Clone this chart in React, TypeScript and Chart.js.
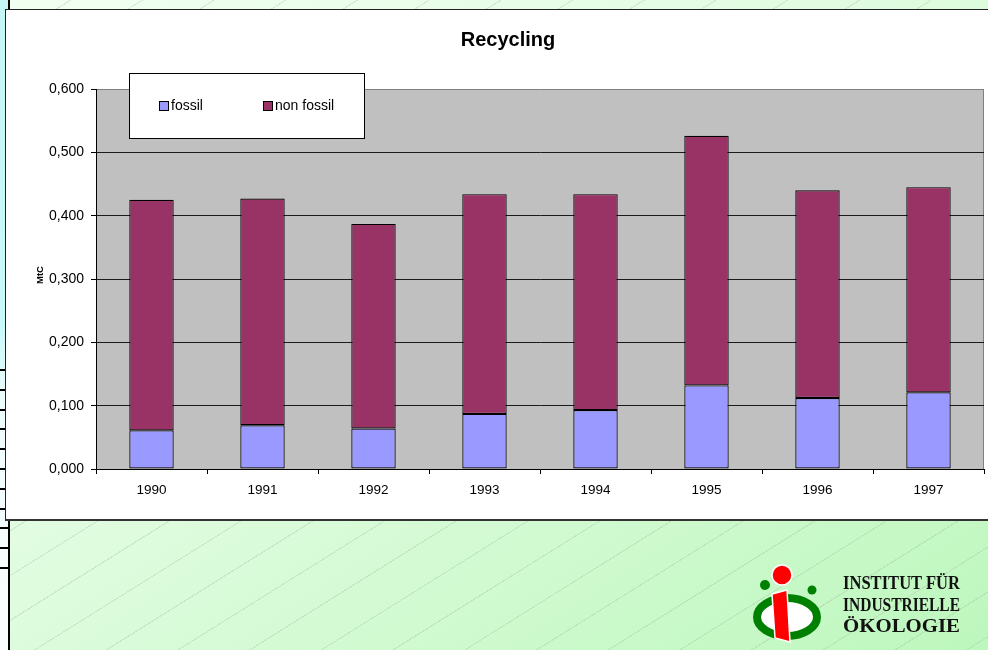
import React, { useEffect, useRef } from "react";
import { Chart, registerables } from "chart.js";

Chart.register(...registerables);

const categories = ["1990", "1991", "1992", "1993", "1994", "1995", "1996", "1997"];
const fossil = [0.061, 0.069, 0.064, 0.087, 0.093, 0.132, 0.112, 0.121];
const nonFossil = [0.364, 0.358, 0.323, 0.347, 0.341, 0.394, 0.328, 0.324];
const seriesLabels = ["fossil", "non fossil"];
const seriesColors = ["#9999FF", "#993366"];
const yTicks = [0, 0.1, 0.2, 0.3, 0.4, 0.5, 0.6];
const chartTitle = "Recycling";
const yAxisTitle = "MtC";
const logoLines = ["INSTITUT FÜR", "INDUSTRIELLE", "ÖKOLOGIE"];

const FONT = "'Liberation Sans', Arial, sans-serif";

const fmt = (v: number) => v.toFixed(3).replace(".", ",");

const plotBg = {
  id: "plotBg",
  beforeDraw(chart: any) {
    const { ctx, chartArea: a } = chart;
    ctx.save();
    ctx.fillStyle = "#C0C0C0";
    ctx.fillRect(a.left, a.top, a.right - a.left, a.bottom - a.top);
    ctx.strokeStyle = "#808080";
    ctx.lineWidth = 1;
    ctx.beginPath();
    ctx.moveTo(a.right - 0.5, a.top);
    ctx.lineTo(a.right - 0.5, a.bottom);
    ctx.stroke();
    ctx.restore();
  },
};

const decorations = {
  id: "decorations",
  afterDraw(chart: any) {
    const { ctx, chartArea: a } = chart;
    ctx.save();
    // title
    ctx.fillStyle = "#000";
    ctx.font = `bold 20px ${FONT}`;
    ctx.textAlign = "center";
    ctx.textBaseline = "middle";
    ctx.fillText(chartTitle, 502, 30);
    // y axis title
    ctx.save();
    ctx.translate(34, 265);
    ctx.rotate(-Math.PI / 2);
    ctx.font = `bold 9.5px ${FONT}`;
    ctx.fillText(yAxisTitle, 0, 0);
    ctx.restore();
    // legend box
    const bx = a.left + 33;
    const by = a.top - 16;
    const bw = 236;
    const bh = 66;
    ctx.fillStyle = "#FFFFFF";
    ctx.fillRect(bx, by, bw, bh);
    ctx.strokeStyle = "#000";
    ctx.lineWidth = 1;
    ctx.strokeRect(bx + 0.5, by + 0.5, bw - 1, bh - 1);
    const offs = [30, 134];
    chart.data.datasets.forEach((ds: any, i: number) => {
      const mx = bx + offs[i];
      const my = by + 28;
      ctx.fillStyle = ds.backgroundColor;
      ctx.fillRect(mx, my, 9, 9);
      ctx.strokeStyle = "#000";
      ctx.strokeRect(mx + 0.5, my + 0.5, 9, 9);
      ctx.fillStyle = "#000";
      ctx.font = `14px ${FONT}`;
      ctx.textAlign = "left";
      ctx.textBaseline = "middle";
      ctx.fillText(ds.label, mx + 12, by + 33);
    });
    ctx.restore();
  },
};

function ChartPanel() {
  const ref = useRef<HTMLCanvasElement | null>(null);
  useEffect(() => {
    if (!ref.current) return;
    const chart = new Chart(ref.current, {
      type: "bar",
      data: {
        labels: categories,
        datasets: [
          {
            label: seriesLabels[0],
            data: fossil,
            backgroundColor: seriesColors[0],
            borderColor: "#000",
            borderWidth: 1.2,
            borderSkipped: false,
            barPercentage: 0.4,
            categoryPercentage: 1,
          },
          {
            label: seriesLabels[1],
            data: nonFossil,
            backgroundColor: seriesColors[1],
            borderColor: "#000",
            borderWidth: 1.2,
            borderSkipped: false,
            barPercentage: 0.4,
            categoryPercentage: 1,
          },
        ],
      },
      options: {
        responsive: false,
        animation: false,
        devicePixelRatio: 1,
        layout: { padding: { top: 79, right: 4, left: 0, bottom: 0 } },
        plugins: {
          legend: { display: false },
          title: { display: false },
          tooltip: { enabled: false },
        },
        scales: {
          x: {
            stacked: true,
            offset: true,
            afterFit: (s: any) => {
              s.height = 50;
            },
            grid: {
              offset: true,
              drawOnChartArea: false,
              drawTicks: true,
              tickLength: 5,
              color: "#000",
              tickColor: "#000",
            },
            border: { color: "#000", width: 1 },
            ticks: {
              color: "#000",
              font: { family: FONT, size: 13.5 },
              padding: 8,
              maxRotation: 0,
            },
          },
          y: {
            stacked: true,
            min: 0,
            max: 0.6,
            afterFit: (s: any) => {
              s.width = 90;
            },
            afterBuildTicks: (s: any) => {
              s.ticks = yTicks.map((v) => ({ value: v }));
            },
            grid: {
              color: (c: any) => (c.tick && c.tick.value >= 0.6 ? "#808080" : "#1a1a1a"),
              tickColor: "#000",
              tickLength: 5,
              lineWidth: 1,
            },
            border: { color: "#000", width: 1 },
            ticks: {
              color: "#000",
              font: { family: FONT, size: 14 },
              padding: 7,
              callback: (v: any) => fmt(Number(v)),
            },
          },
        },
      },
      plugins: [plotBg, decorations],
    });
    return () => chart.destroy();
  }, []);
  return (
    <canvas
      ref={ref}
      width={982}
      height={509}
      style={{ position: "absolute", left: 6, top: 10, width: 982, height: 509 }}
    />
  );
}

function Logo() {
  return (
    <svg
      width={988}
      height={650}
      style={{ position: "absolute", left: 0, top: 0, pointerEvents: "none" }}
    >
      <ellipse cx={787} cy={617} rx={30} ry={19} fill="#FFFFFF" stroke="#008000" strokeWidth={8} />
      <circle cx={765} cy={585} r={5} fill="#008000" />
      <circle cx={812} cy={590} r={4.5} fill="#008000" />
      <polygon points="772,594 787,590 790,642 775,638" fill="#FF0000" stroke="#FFFFFF" strokeWidth={1.5} />
      <circle cx={782} cy={575} r={10} fill="#FF0000" stroke="#FFFFFF" strokeWidth={1.5} />
      {logoLines.map((t, i) => (
        <text
          key={t}
          x={843}
          y={589 + i * 21.5}
          fontFamily="'Liberation Serif', 'Times New Roman', serif"
          fontWeight="bold"
          fontSize={18}
          fill="#111"
          textLength={117}
          lengthAdjust="spacingAndGlyphs"
        >
          {t}
        </text>
      ))}
    </svg>
  );
}

export default function App() {
  const ticks = [];
  for (let i = 0; i < 11; i++) {
    ticks.push(
      <div
        key={i}
        style={{ position: "absolute", left: 0, top: 369 + i * 19.8, width: 8, height: 2, background: "#000" }}
      />
    );
  }
  return (
    <div
      style={{
        position: "absolute",
        left: 0,
        top: 0,
        width: 988,
        height: 650,
        overflow: "hidden",
        background: "linear-gradient(to bottom right, #f2fff2 0%, #e0fce0 45%, #bdf7bd 100%)",
      }}
    >
      <div
        style={{
          position: "absolute",
          inset: 0,
          background:
            "repeating-linear-gradient(148deg, rgba(150,170,150,0) 0px, rgba(150,170,150,0) 37px, rgba(150,170,150,0.28) 37px, rgba(150,170,150,0.28) 38px)",
        }}
      />
      <div
        style={{
          position: "absolute",
          left: 0,
          top: 0,
          width: 8,
          height: 650,
          background: "linear-gradient(to bottom, #c4f6f6 0%, #c8f8f8 50%, #eefcfc 62%, #fbfefe 100%)",
        }}
      />
      <div style={{ position: "absolute", left: 8, top: 0, width: 2, height: 650, background: "#000" }} />
      {ticks}
      <div
        style={{
          position: "absolute",
          left: 5,
          top: 9,
          width: 1000,
          height: 509,
          background: "#FFFFFF",
          borderTop: "1px solid #222",
          borderLeft: "1px solid #222",
          borderBottom: "2px solid #333",
        }}
      />
      <ChartPanel />
      <Logo />
    </div>
  );
}
